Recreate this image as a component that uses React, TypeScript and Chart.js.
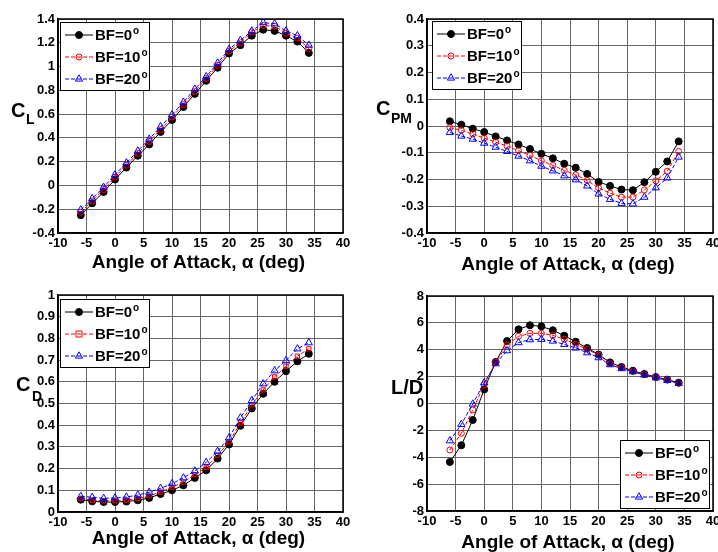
import React, { useEffect, useRef } from "react";
import { Chart, registerables } from "chart.js";

Chart.register(...registerables);

const ALPHA = [-6, -4, -2, 0, 2, 4, 6, 8, 10, 12, 14, 16, 18, 20, 22, 24, 26, 28, 30, 32, 34];
const LEGEND_LABELS = ["BF=0", "BF=10", "BF=20"];
const X_TITLE = "Angle of Attack, \u03B1 (deg)";

const CL_BF0 = [-0.25, -0.15, -0.055, 0.05, 0.15, 0.25, 0.345, 0.45, 0.55, 0.66, 0.77, 0.88, 0.99, 1.11, 1.18, 1.26, 1.31, 1.30, 1.26, 1.21, 1.115];
const CL_BF10 = [-0.225, -0.13, -0.035, 0.07, 0.17, 0.27, 0.37, 0.47, 0.575, 0.68, 0.79, 0.9, 1.01, 1.13, 1.2, 1.29, 1.345, 1.34, 1.28, 1.24, 1.15];
const CL_BF20 = [-0.205, -0.11, -0.015, 0.09, 0.19, 0.29, 0.39, 0.495, 0.595, 0.7, 0.81, 0.915, 1.03, 1.145, 1.22, 1.3, 1.37, 1.36, 1.3, 1.26, 1.18];

const CPM_BF0 = [0.0175, 0.005, -0.01, -0.0225, -0.039, -0.054, -0.069, -0.086, -0.104, -0.121, -0.141, -0.156, -0.179, -0.209, -0.224, -0.2375, -0.24, -0.21, -0.171, -0.1325, -0.0575];
const CPM_BF10 = [-0.006, -0.016, -0.03, -0.045, -0.06, -0.075, -0.0925, -0.11, -0.13, -0.1475, -0.166, -0.1825, -0.204, -0.231, -0.251, -0.266, -0.266, -0.239, -0.205, -0.169, -0.095];
const CPM_BF20 = [-0.024, -0.0375, -0.049, -0.064, -0.079, -0.095, -0.1125, -0.13, -0.15, -0.1675, -0.186, -0.201, -0.224, -0.254, -0.274, -0.289, -0.291, -0.266, -0.231, -0.194, -0.116];

const CD_BF0 = [0.057, 0.049, 0.046, 0.046, 0.048, 0.054, 0.065, 0.083, 0.1, 0.123, 0.157, 0.192, 0.246, 0.311, 0.397, 0.477, 0.545, 0.6, 0.649, 0.694, 0.729];
const CD_BF10 = [0.062, 0.054, 0.052, 0.052, 0.055, 0.062, 0.074, 0.092, 0.114, 0.138, 0.172, 0.206, 0.262, 0.323, 0.41, 0.494, 0.563, 0.623, 0.672, 0.718, 0.752];
const CD_BF20 = [0.072, 0.068, 0.063, 0.065, 0.069, 0.078, 0.091, 0.109, 0.131, 0.157, 0.189, 0.229, 0.28, 0.342, 0.434, 0.514, 0.591, 0.651, 0.698, 0.752, 0.78];

const LD_BF0 = [-4.35, -3.11, -1.23, 1.05, 3.09, 4.65, 5.52, 5.82, 5.74, 5.45, 5.05, 4.6, 4.13, 3.64, 3.06, 2.72, 2.44, 2.2, 1.97, 1.78, 1.55];
const LD_BF10 = [-3.46, -2.22, -0.48, 1.4, 3.06, 4.35, 5.0, 5.22, 5.22, 5.07, 4.78, 4.4, 4.03, 3.61, 2.96, 2.67, 2.39, 2.15, 1.95, 1.77, 1.5];
const LD_BF20 = [-2.77, -1.55, -0.04, 1.55, 2.96, 3.93, 4.53, 4.75, 4.78, 4.65, 4.4, 4.13, 3.78, 3.41, 2.89, 2.6, 2.37, 2.12, 1.92, 1.72, 1.5];

const FONT = "'Liberation Sans', Arial, sans-serif";

type PanelSpec = {
  left: number;
  top: number;
  width: number;
  height: number;
  plot: { L: number; R: number; T: number; B: number };
  series: number[][];
  midMarker: string;
  yMin: number;
  yMax: number;
  yStep: number;
  yLabel: { main: string; sub: string; x: number; y: number; subX: number; subY: number };
  legend: { x: number; y: number };
  titleY: number;
};

const COLORS = ["#000000", "#ff0000", "#0000ff"];

function fmt(v: number) {
  const r = Math.round(v * 1000) / 1000;
  return (Object.is(r, -0) ? 0 : r).toString();
}

function drawMarker(ctx: CanvasRenderingContext2D, style: string, x: number, y: number, color: string, filled: boolean) {
  ctx.save();
  ctx.setLineDash([]);
  ctx.lineWidth = 1;
  ctx.strokeStyle = color;
  ctx.fillStyle = color;
  ctx.beginPath();
  if (style === "circle") {
    ctx.arc(x, y, filled ? 3.5 : 3, 0, Math.PI * 2);
  } else if (style === "rect") {
    ctx.rect(x - 3, y - 3, 6, 6);
  } else {
    const r = 4.2;
    ctx.moveTo(x, y - r);
    ctx.lineTo(x + r * 0.866, y + r * 0.5);
    ctx.lineTo(x - r * 0.866, y + r * 0.5);
    ctx.closePath();
  }
  if (filled) ctx.fill();
  ctx.stroke();
  ctx.restore();
}

function Panel({ spec }: { spec: PanelSpec }) {
  const ref = useRef<HTMLCanvasElement | null>(null);
  useEffect(() => {
    const canvas = ref.current;
    if (!canvas) return;
    const { plot } = spec;
    const styles = ["circle", spec.midMarker, "triangle"];
    const datasets = spec.series.map((vals, i) => ({
      label: LEGEND_LABELS[i],
      data: ALPHA.map((a, k) => ({ x: a, y: vals[k] })),
      borderColor: COLORS[i],
      backgroundColor: i === 0 ? COLORS[i] : "rgba(0,0,0,0)",
      borderWidth: 1,
      borderDash: i === 0 ? [] : [4, 2],
      pointStyle: styles[i] as any,
      pointRadius: i === 0 ? 3.5 : i === 2 ? 4.2 : 3,
      pointBorderWidth: 1,
      pointBackgroundColor: i === 0 ? COLORS[i] : "rgba(0,0,0,0)",
      pointBorderColor: COLORS[i],
      tension: 0,
      order: 3 - i,
    }));

    const decor = {
      id: "decor",
      afterDraw(chart: any) {
        const ctx: CanvasRenderingContext2D = chart.ctx;
        const ca = chart.chartArea;
        ctx.save();
        ctx.strokeStyle = "#000";
        ctx.lineWidth = 1.5;
        ctx.setLineDash([]);
        ctx.strokeRect(ca.left, ca.top, ca.right - ca.left, ca.bottom - ca.top);
        ctx.fillStyle = "#000";
        ctx.font = `bold 19px ${FONT}`;
        ctx.textAlign = "center";
        ctx.textBaseline = "alphabetic";
        ctx.fillText(X_TITLE, (ca.left + ca.right) / 2 - 2, spec.titleY);
        ctx.textAlign = "left";
        ctx.font = `bold 20px ${FONT}`;
        ctx.fillText(spec.yLabel.main, spec.yLabel.x, spec.yLabel.y);
        if (spec.yLabel.sub) {
          ctx.font = `bold 14px ${FONT}`;
          ctx.fillText(spec.yLabel.sub, spec.yLabel.subX, spec.yLabel.subY);
        }
        const lx = spec.legend.x;
        const ly = spec.legend.y;
        ctx.fillStyle = "#fff";
        ctx.fillRect(lx, ly, 89, 68);
        ctx.strokeStyle = "#000";
        ctx.lineWidth = 1;
        ctx.strokeRect(lx + 0.5, ly + 0.5, 89, 68);
        for (let i = 0; i < 3; i++) {
          const ry = ly + 13 + i * 22;
          ctx.beginPath();
          ctx.strokeStyle = COLORS[i];
          ctx.lineWidth = 1;
          ctx.setLineDash(i === 0 ? [] : [4, 2]);
          ctx.moveTo(lx + 5, ry);
          ctx.lineTo(lx + 33, ry);
          ctx.stroke();
          ctx.setLineDash([]);
          drawMarker(ctx, styles[i], lx + 19, ry, COLORS[i], i === 0);
          ctx.fillStyle = "#000";
          ctx.font = `bold 15px ${FONT}`;
          ctx.textBaseline = "middle";
          ctx.fillText(LEGEND_LABELS[i], lx + 35, ry + 1);
          const w = ctx.measureText(LEGEND_LABELS[i]).width;
          ctx.font = `bold 10px ${FONT}`;
          ctx.fillText("o", lx + 36 + w, ry - 4);
        }
        ctx.restore();
      },
    };

    const tickFont = { family: FONT, size: 13, weight: "bold" };
    const chart = new Chart(canvas, {
      type: "line",
      data: { datasets },
      options: {
        animation: false,
        responsive: false,
        maintainAspectRatio: false,
        layout: { padding: { top: plot.T, right: spec.width - plot.R, left: 0, bottom: 0 } },
        plugins: { legend: { display: false }, tooltip: { enabled: false } },
        scales: {
          x: {
            type: "linear",
            min: -10,
            max: 40,
            afterFit: (s: any) => {
              s.height = spec.height - plot.B;
            },
            ticks: { stepSize: 5, color: "#000", font: tickFont, padding: 3, maxRotation: 0, callback: (v: any) => fmt(Number(v)) },
            grid: { color: "#666", lineWidth: 1, drawTicks: false },
            border: { display: true, color: "#000", width: 1.5 },
          },
          y: {
            type: "linear",
            min: spec.yMin,
            max: spec.yMax,
            afterFit: (s: any) => {
              s.width = plot.L;
            },
            ticks: { stepSize: spec.yStep, color: "#000", font: tickFont, padding: 3, callback: (v: any) => fmt(Number(v)) },
            grid: { color: "#666", lineWidth: 1, drawTicks: false },
            border: { display: true, color: "#000", width: 1.5 },
          },
        },
      } as any,
      plugins: [decor],
    });
    return () => chart.destroy();
  }, [spec]);
  return (
    <canvas
      ref={ref}
      width={spec.width}
      height={spec.height}
      style={{ position: "absolute", left: spec.left, top: spec.top, width: spec.width, height: spec.height }}
    />
  );
}

const PANELS: PanelSpec[] = [
  {
    left: 0, top: 0, width: 380, height: 276,
    plot: { L: 58, R: 343, T: 19, B: 233 },
    series: [CL_BF0, CL_BF10, CL_BF20], midMarker: "circle",
    yMin: -0.4, yMax: 1.4, yStep: 0.2,
    yLabel: { main: "C", sub: "L", x: 11, y: 117, subX: 26, subY: 124 },
    legend: { x: 60, y: 22 },
    titleY: 268,
  },
  {
    left: 358, top: 0, width: 380, height: 276,
    plot: { L: 69, R: 355, T: 19, B: 233 },
    series: [CPM_BF0, CPM_BF10, CPM_BF20], midMarker: "circle",
    yMin: -0.4, yMax: 0.4, yStep: 0.1,
    yLabel: { main: "C", sub: "PM", x: 18, y: 115, subX: 33, subY: 123 },
    legend: { x: 74, y: 21 },
    titleY: 270,
  },
  {
    left: 0, top: 276, width: 380, height: 276,
    plot: { L: 58, R: 343, T: 19, B: 236 },
    series: [CD_BF0, CD_BF10, CD_BF20], midMarker: "rect",
    yMin: 0, yMax: 1, yStep: 0.1,
    yLabel: { main: "C", sub: "D", x: 16, y: 115, subX: 32, subY: 125 },
    legend: { x: 60, y: 23 },
    titleY: 268,
  },
  {
    left: 358, top: 276, width: 380, height: 276,
    plot: { L: 69, R: 355, T: 20, B: 235 },
    series: [LD_BF0, LD_BF10, LD_BF20], midMarker: "circle",
    yMin: -8, yMax: 8, yStep: 2,
    yLabel: { main: "L/D", sub: "", x: 33, y: 118, subX: 0, subY: 0 },
    legend: { x: 262, y: 164 },
    titleY: 272,
  },
];

export default function App() {
  return (
    <div
      style={{
        position: "fixed",
        left: 0,
        top: 0,
        width: 718,
        height: 552,
        overflow: "hidden",
        background: "#fff",
      }}
    >
      {PANELS.map((p, i) => (
        <Panel key={i} spec={p} />
      ))}
    </div>
  );
}
